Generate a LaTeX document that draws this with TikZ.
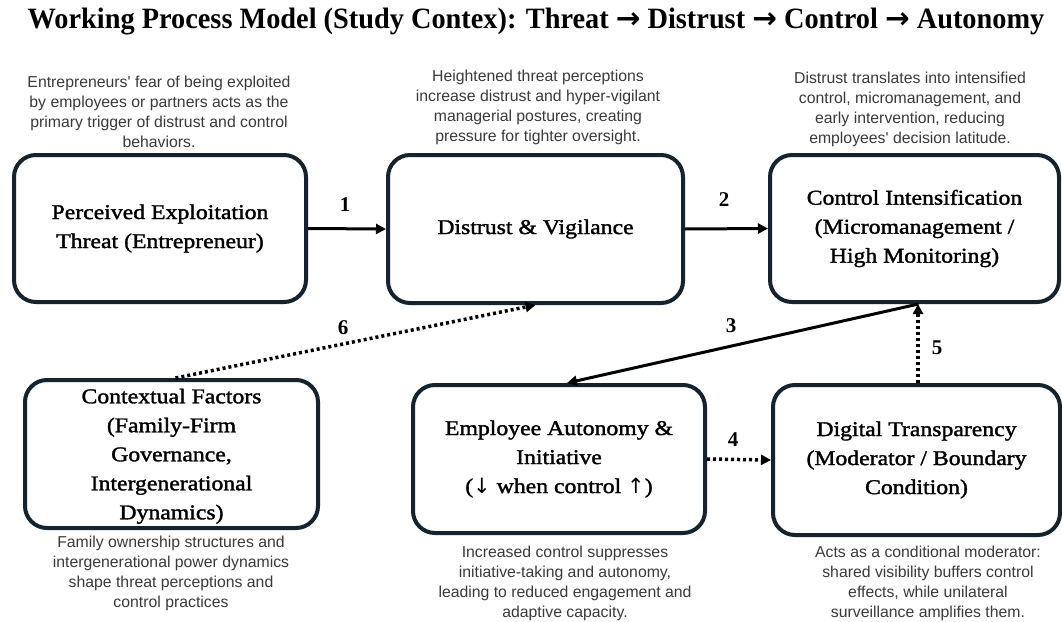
\documentclass[tikz,border=0pt]{standalone}
\usepackage{fontspec}
\setmainfont{Liberation Serif}
\newfontfamily\stagefont[FakeStretch=1.13,FakeBold=1.6]{Liberation Serif}
\newfontfamily\titlefont[FakeStretch=0.96]{Liberation Serif}
\newfontfamily\notefont{Liberation Sans}
\newfontfamily\arrowfont{DejaVu Sans}
\usetikzlibrary{arrows.meta,calc}
\definecolor{boxline}{HTML}{14232E}
\definecolor{notegray}{HTML}{3A3A3A}
\tikzset{
  stage/.style={draw=boxline, line width=4pt, rounded corners=22pt, align=center,
    font=\stagefont\fontsize{21}{29}\selectfont, inner sep=0pt},
  note/.style={align=center, text=notegray, font=\notefont\fontsize{15.8}{20}\selectfont},
  link/.style={line width=3pt, -{Triangle[length=10pt,width=10pt]}},
  dotlink/.style={line width=3.5pt, dash pattern=on 3pt off 3pt,
    -{Triangle[length=10pt,width=10pt]}},
  num/.style={font=\bfseries\fontsize{21}{22}\selectfont}
}
\begin{document}
\begin{tikzpicture}[x=1pt,y=-1pt]
\useasboundingbox (0,0) rectangle (1062,621);
% title
\node[font=\titlefont\bfseries\fontsize{29.5}{32}\selectfont] (title) at (536,22)
  {Working Process Model (Study Contex): Threat {\arrowfont\bfseries→} Distrust {\arrowfont\bfseries→} Control {\arrowfont\bfseries→} Autonomy};
% stages
\node[stage, minimum width=292pt, minimum height=147pt] (A) at (160,228.5)
  {Perceived Exploitation\\Threat (Entrepreneur)};
\node[stage, minimum width=295pt, minimum height=148pt] (B) at (535.5,229)
  {Distrust \& Vigilance};
\node[stage, minimum width=289pt, minimum height=147pt] (C) at (914.5,228.5)
  {Control Intensification\\(Micromanagement /\\High Monitoring)};
\node[stage, minimum width=293pt, minimum height=148pt, text depth=0pt] (D) at (171.5,454)
  {Contextual Factors\\(Family-Firm\\Governance,\\Intergenerational\\Dynamics)};
\node[stage, minimum width=292pt, minimum height=148pt] (E) at (559,459)
  {Employee Autonomy \&\\Initiative\\({\arrowfont↓} when control {\arrowfont↑})};
\node[stage, minimum width=287pt, minimum height=150pt] (F) at (916.5,460)
  {Digital Transparency\\(Moderator / Boundary\\Condition)};
% explanatory notes
\node[note] (nA) at (159,112) {Entrepreneurs' fear of being exploited\\by employees or partners acts as the\\primary trigger of distrust and control\\behaviors.};
\node[note] (nB) at (538,107) {Heightened threat perceptions\\increase distrust and hyper-vigilant\\managerial postures, creating\\pressure for tighter oversight.};
\node[note] (nC) at (910,109) {Distrust translates into intensified\\control, micromanagement, and\\early intervention, reducing\\employees' decision latitude.};
\node[note] (nD) at (171,573) {Family ownership structures and\\intergenerational power dynamics\\shape threat perceptions and\\control practices};
\node[note] (nE) at (565,583) {Increased control suppresses\\initiative-taking and autonomy,\\leading to reduced engagement and\\adaptive capacity.};
\node[note] (nF) at (928,583) {Acts as a conditional moderator:\\shared visibility buffers control\\effects, while unilateral\\surveillance amplifies them.};
% connectors
\draw[link] (A.east) -- (B.west);
\draw[link] (B.east) -- (C.west);
\draw[link] ([xshift=4pt]C.south) -- ([xshift=8pt]E.north);
\draw[dotlink] (E.east) -- (F.west);
\draw[dotlink] ([xshift=1.5pt]F.north) -- ([xshift=1.5pt]F.north |- C.south);
\draw[dotlink] ([xshift=4pt]D.north) -- (B.south);
% connector numbers
\node[num] (n1) at (345,205) {1};
\node[num] (n2) at (724,200) {2};
\node[num] (n3) at (731,326) {3};
\node[num] (n4) at (733,440) {4};
\node[num] (n5) at (937,348) {5};
\node[num] (n6) at (343,328) {6};
\end{tikzpicture}
\end{document}
